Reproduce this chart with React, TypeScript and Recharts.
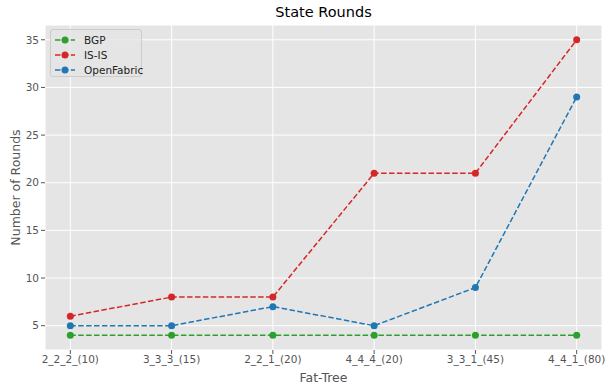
import { LineChart, Line, XAxis, YAxis, CartesianGrid, Label } from "recharts";

const categories = ["2_2_2_(10)", "3_3_3_(15)", "2_2_1_(20)", "4_4_4_(20)", "3_3_1_(45)", "4_4_1_(80)"];
const bgp = [4, 4, 4, 4, 4, 4];
const isis = [6, 8, 8, 21, 21, 35];
const openFabric = [5, 5, 7, 5, 9, 29];
const yTicks = [5, 10, 15, 20, 25, 30, 35];

const series = [
    { key: "bgp", name: "BGP", color: "#2ca02c" },
    { key: "isis", name: "IS-IS", color: "#d62728" },
    { key: "openFabric", name: "OpenFabric", color: "#1f77b4" },
];

const data = categories.map((c, i) => ({
    x: i, label: c, bgp: bgp[i], isis: isis[i], openFabric: openFabric[i],
}));

const font = "'DejaVu Sans', sans-serif";

const LegendBox = () => (
    <div style={{
        position: "absolute", left: 50, top: 29, width: 92, height: 48,
        background: "rgba(229,229,229,0.8)", border: "1px solid #cccccc", borderRadius: 3,
        boxSizing: "border-box", fontFamily: font, fontSize: 10.5, color: "#222",
    }}>
        {series.map((s, i) => (
            <div key={s.key} style={{ position: "absolute", left: 3, top: 2 + i * 15, height: 15, display: "flex", alignItems: "center" }}>
                <svg width={22} height={10}>
                    <line x1={1} y1={5} x2={21} y2={5} stroke={s.color} strokeWidth={1.5} strokeDasharray="5.5 2.4" />
                    <circle cx={11} cy={5} r={3.5} fill={s.color} />
                </svg>
                <span style={{ marginLeft: 8 }}>{s.name}</span>
            </div>
        ))}
    </div>
);

export default function App() {
    return (
        <div style={{ position: "absolute", left: 0, top: 0, width: 612, height: 392, background: "#fff" }}>
            <div style={{
                position: "absolute", left: 45, width: 557, top: 4, textAlign: "center",
                fontFamily: font, fontSize: 14.5, color: "#000",
            }}>State Rounds</div>
            <LineChart width={612} height={392} data={data} margin={{ top: 25, right: 10, left: 0, bottom: 0 }}>
                <CartesianGrid stroke="#ffffff" strokeWidth={1} fill="#e5e5e5" />
                <XAxis dataKey="x" type="number" domain={[-0.25, 5.25]} ticks={[0, 1, 2, 3, 4, 5]}
                    tickFormatter={(v) => categories[v]} height={42} axisLine={false}
                    tickLine={{ stroke: "#555555" }} tickSize={4}
                    tick={{ fill: "#555555", fontSize: 10.5, fontFamily: font }} interval={0}>
                    <Label value="Fat-Tree" position="insideBottom" offset={10}
                        style={{ fill: "#555555", fontSize: 12.5, fontFamily: font }} />
                </XAxis>
                <YAxis type="number" domain={[2.45, 36.55]} ticks={yTicks} width={45} axisLine={false}
                    tickLine={{ stroke: "#555555" }} tickSize={4}
                    tick={{ fill: "#555555", fontSize: 10.5, fontFamily: font }} allowDataOverflow>
                    <Label value="Number of Rounds" angle={-90} position="insideLeft" offset={16}
                        style={{ fill: "#555555", fontSize: 12.5, fontFamily: font, textAnchor: "middle" }} />
                </YAxis>
                {series.map((s) => (
                    <Line key={s.key} dataKey={s.key} name={s.name} type="linear" stroke={s.color}
                        strokeWidth={1.5} strokeDasharray="5.5 2.4"
                        dot={{ r: 3.5, fill: s.color, stroke: s.color, strokeWidth: 0 }}
                        activeDot={false} isAnimationActive={false} />
                ))}
            </LineChart>
            <LegendBox />
        </div>
    );
}
